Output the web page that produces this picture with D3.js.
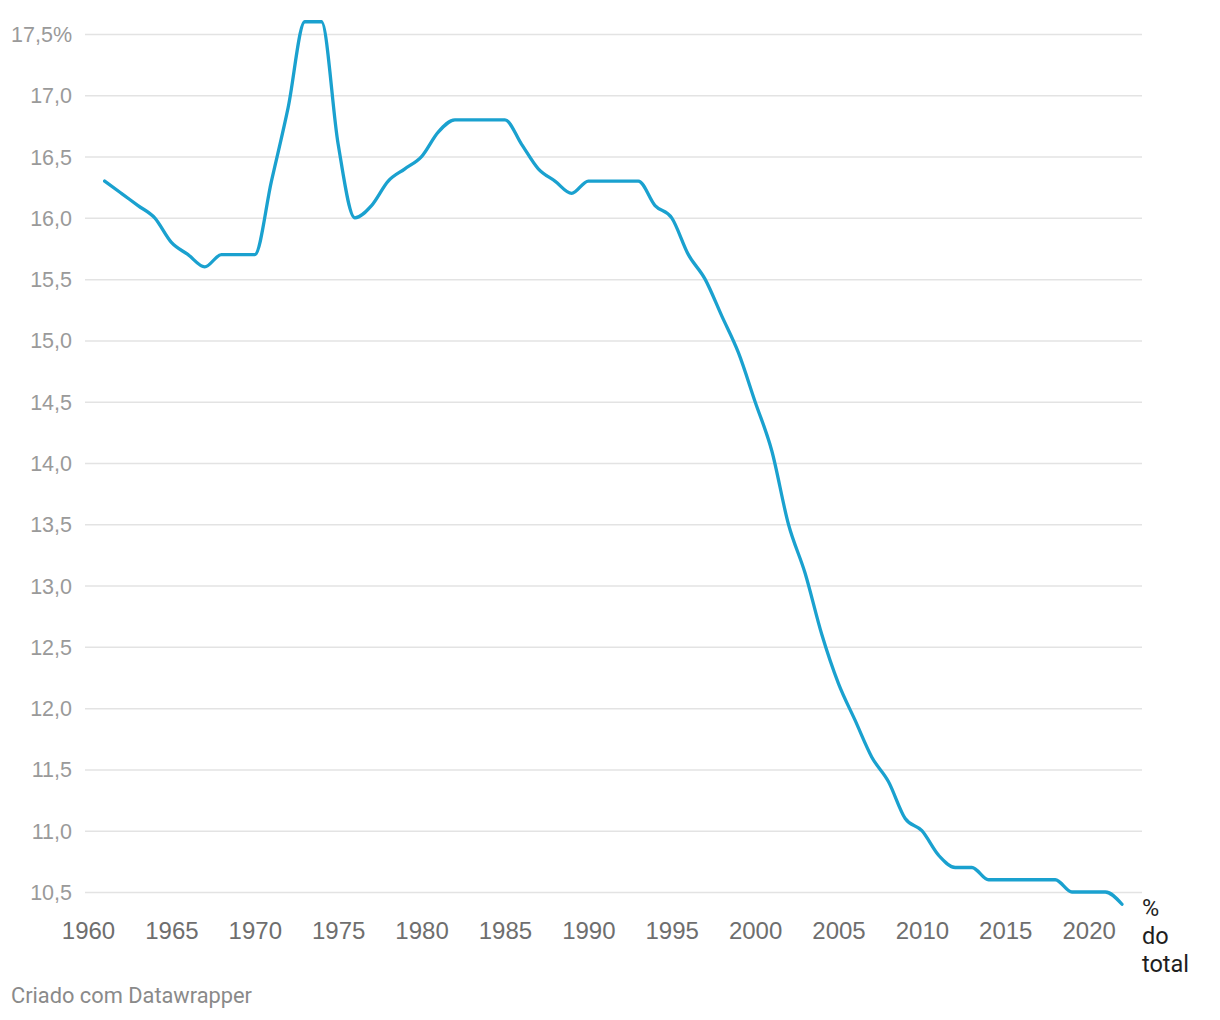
<!DOCTYPE html>
<html>
<head>
<meta charset="utf-8">
<script src="https://cdn.jsdelivr.net/npm/d3@7"></script>
<style>
  html, body { margin: 0; padding: 0; background: #fff; }
  svg { display: block; font-family: Roboto, "Noto Sans", sans-serif; }
</style>
</head>
<body>
<svg id="chart" width="1220" height="1020"></svg>
<script>
const years = [1961,1962,1963,1964,1965,1966,1967,1968,1969,1970,
  1971,1972,1973,1974,1975,1976,1977,1978,1979,1980,
  1981,1982,1983,1984,1985,1986,1987,1988,1989,1990,
  1991,1992,1993,1994,1995,1996,1997,1998,1999,2000,
  2001,2002,2003,2004,2005,2006,2007,2008,2009,2010,
  2011,2012,2013,2014,2015,2016,2017,2018,2019,2020,
  2021,2022];
const shares = [16.3,16.2,16.1,16.0,15.8,15.7,15.6,15.7,15.7,15.7,
  16.3,16.9,17.6,17.6,16.6,16.0,16.1,16.3,16.4,16.5,
  16.7,16.8,16.8,16.8,16.8,16.6,16.4,16.3,16.2,16.3,
  16.3,16.3,16.3,16.1,16.0,15.7,15.5,15.2,14.9,14.5,
  14.1,13.5,13.1,12.6,12.2,11.9,11.6,11.4,11.1,11.0,
  10.8,10.7,10.7,10.6,10.6,10.6,10.6,10.6,10.5,10.5,
  10.5,10.4];
const yTicks = [17.5,17.0,16.5,16.0,15.5,15.0,14.5,14.0,13.5,13.0,12.5,12.0,11.5,11.0,10.5];
const xTicks = [1960,1965,1970,1975,1980,1985,1990,1995,2000,2005,2010,2015,2020];
const unitLabel = ["%", "do", "total"];
const footer = "Criado com Datawrapper";

const data = years.map((y, i) => ({year: y, v: shares[i]}));
const svg = d3.select("#chart");

const x = d3.scaleLinear().domain([1960, 2022]).range([88, 1122]);
const y = d3.scaleLinear().domain([10.5, 17.5]).range([892, 34]);
const fmt = v => d3.format(".1f")(v).replace(".", ",");

// grid + y labels
const yAxis = d3.axisLeft(y).tickValues(yTicks).tickSize(-(1142 - 85)).tickPadding(13)
  .tickFormat((d, i) => i === 0 ? fmt(d) + "%" : fmt(d));
const gy = svg.append("g").attr("transform", "translate(85,0)").call(yAxis);
gy.select(".domain").remove();
gy.selectAll(".tick line").attr("stroke", "#e3e3e3").attr("stroke-width", 1.5);
gy.selectAll(".tick text").attr("fill", "#9a9a9a").attr("font-size", 21.5).attr("dy", "0.35em");

// x labels
const xAxis = d3.axisBottom(x).tickValues(xTicks).tickSize(0).tickPadding(0).tickFormat(d3.format("d"));
const gx = svg.append("g").attr("transform", "translate(0,0)").call(xAxis);
gx.select(".domain").remove();
gx.selectAll(".tick text").attr("fill", "#6e6e6e").attr("font-size", 24).attr("y", 939).attr("dy", null);

// line
const line = d3.line().x(d => x(d.year)).y(d => y(d.v)).curve(d3.curveMonotoneX);
svg.append("path").datum(data).attr("d", line)
  .attr("fill", "none").attr("stroke", "#1aa1cf").attr("stroke-width", 3.3)
  .attr("stroke-linejoin", "round").attr("stroke-linecap", "round");

// unit label
const ul = svg.append("text").attr("font-size", 23.5).attr("fill", "#1e1e1e");
unitLabel.forEach((t, i) => ul.append("tspan").attr("x", 1142).attr("y", 916 + i * 28).text(t));

// footer
svg.append("text").attr("x", 11).attr("y", 1003).attr("font-size", 21.8).attr("fill", "#8a8a8a").text(footer);
</script>
</body>
</html>
